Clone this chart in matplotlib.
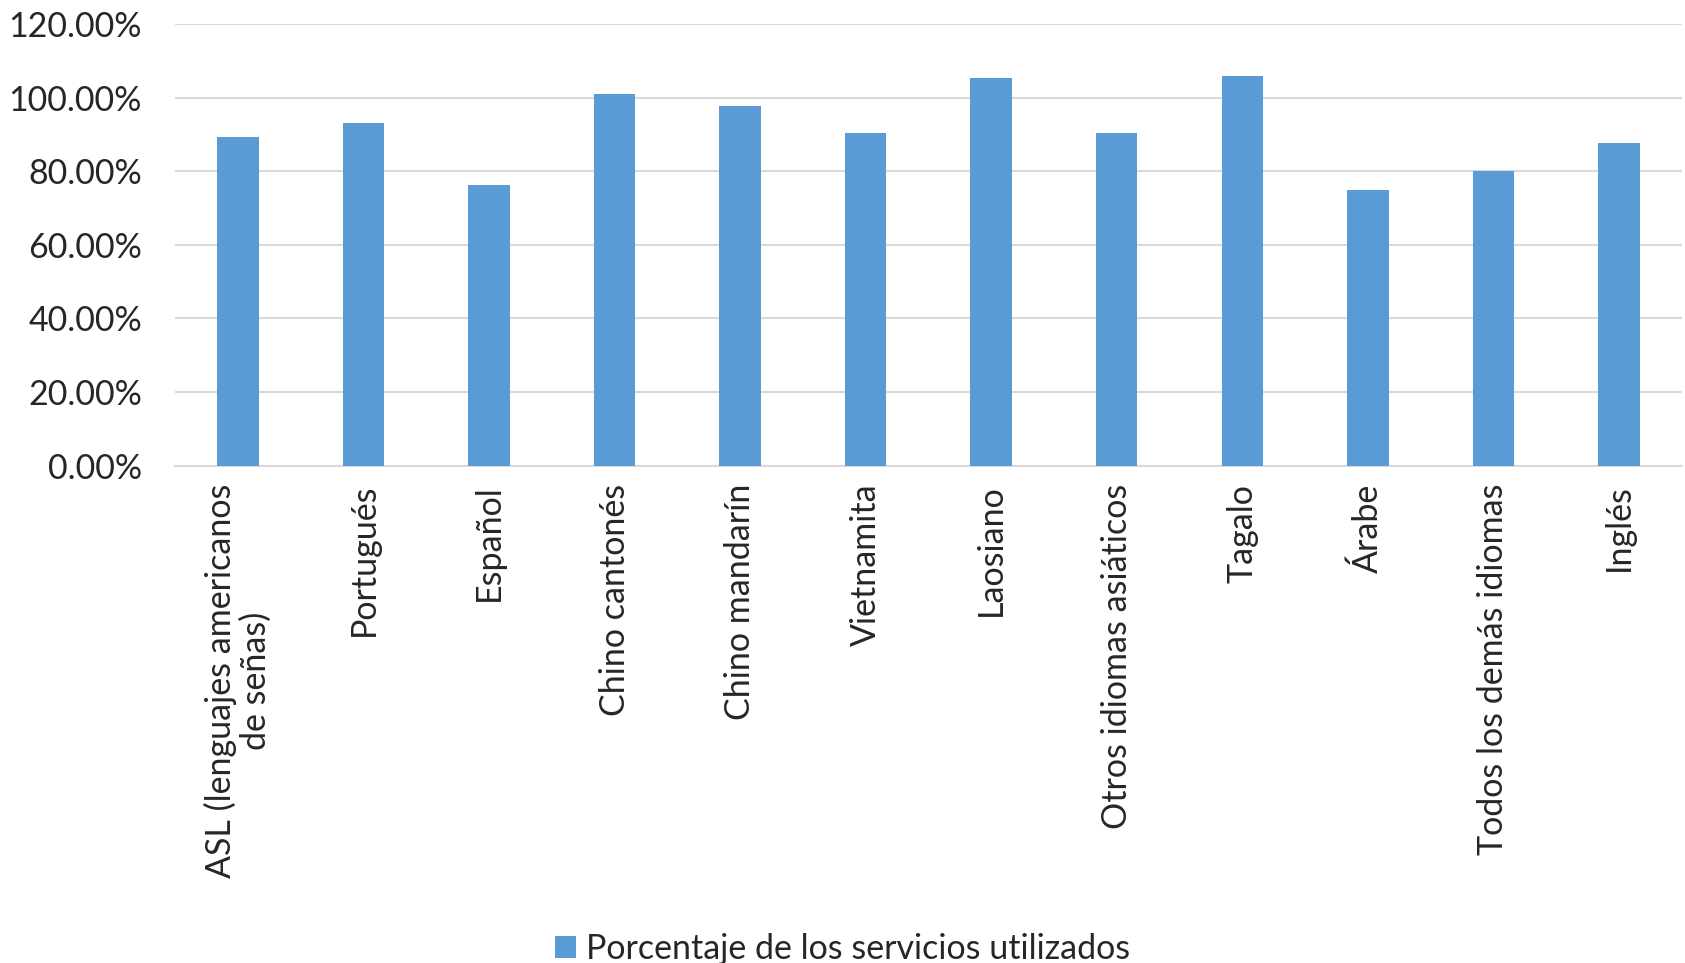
import matplotlib
matplotlib.use("Agg")
import matplotlib.pyplot as plt
from matplotlib.ticker import FuncFormatter

categories = ["ASL (lenguajes americanos\nde señas)", "Portugués", "Español", "Chino cantonés",
              "Chino mandarín", "Vietnamita", "Laosiano", "Otros idiomas asiáticos",
              "Tagalo", "Árabe", "Todos los demás idiomas", "Inglés"]
values = [0.893, 0.930, 0.764, 1.009, 0.978, 0.903, 1.053, 0.903, 1.058, 0.748, 0.802, 0.876]
series_name = "Porcentaje de los servicios utilizados"
y_ticks = [0.0, 0.2, 0.4, 0.6, 0.8, 1.0, 1.2]

plt.rcParams['font.family'] = ['Lato', 'DejaVu Sans']
bar_color = "#5B9BD5"
text_color = "#262626"

fig = plt.figure(figsize=(16.85, 9.63), dpi=100)
ax = fig.add_axes([0.104, 0.5164, 0.894, 0.4586])

x = list(range(len(categories)))
ax.bar(x, values, width=0.33, color=bar_color, label=series_name, zorder=3)

ax.set_xlim(-0.5, len(categories) - 0.5)
ax.set_ylim(0, 1.2)
ax.set_yticks(y_ticks)
ax.yaxis.set_major_formatter(FuncFormatter(lambda v, p: f"{v*100:.2f}%"))
ax.grid(axis='y', color='#D9D9D9', linewidth=1.5, zorder=0)
for s in ['top', 'right', 'left']:
    ax.spines[s].set_visible(False)
ax.spines['bottom'].set_color('#D9D9D9')
ax.spines['bottom'].set_linewidth(1.5)
ax.tick_params(axis='both', length=0, labelsize=24.5, colors=text_color)
ax.tick_params(axis='y', pad=24)
ax.tick_params(axis='x', pad=13)
ax.set_xticks(x)
ax.set_xticklabels(categories, rotation=90, va='top', ha='center', multialignment='center',
                   linespacing=1.1)

fig.legend(loc='lower center', bbox_to_anchor=(0.5, -0.034), frameon=False, fontsize=24.5,
           handlelength=0.6, handleheight=0.6, handletextpad=0.3, labelcolor=text_color)

fig.savefig("out.png", dpi=100)
